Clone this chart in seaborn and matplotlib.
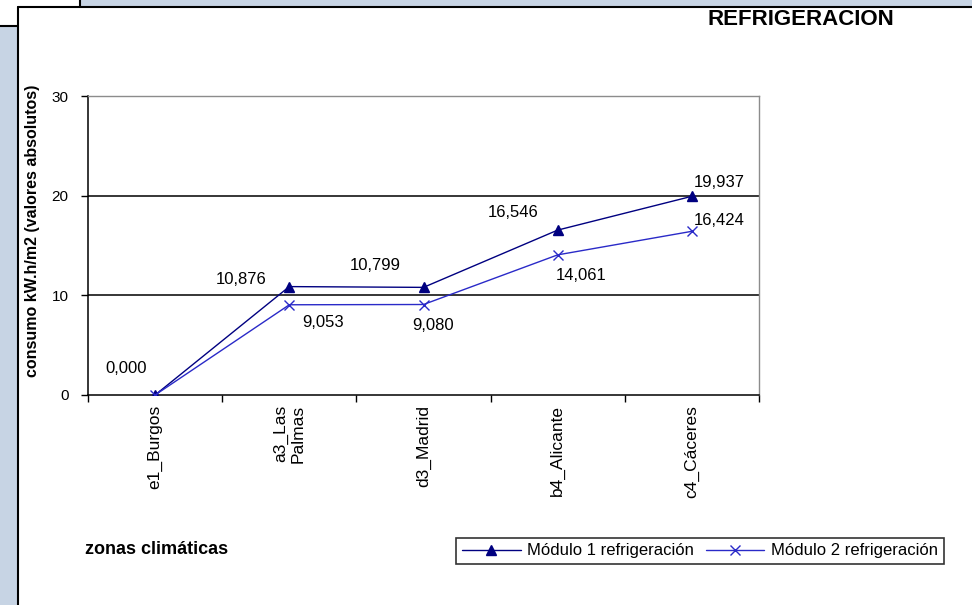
import matplotlib
matplotlib.use("Agg")
import matplotlib.pyplot as plt
from matplotlib.patches import Rectangle
from matplotlib.lines import Line2D
import seaborn as sns
import pandas as pd

# Climate zones and cooling consumption per module (kWh/m2)
zonas = ["e1_Burgos", "a3_Las\nPalmas", "d3_Madrid", "b4_Alicante", "c4_Cáceres"]
modulo1 = [0.000, 10.876, 10.799, 16.546, 19.937]
modulo2 = [0.000, 9.053, 9.080, 14.061, 16.424]
series = ["Módulo 1 refrigeración", "Módulo 2 refrigeración"]
yticks = [0, 10, 20, 30]

df = pd.DataFrame({
    "zona": list(range(len(zonas))) * 2,
    "consumo": modulo1 + modulo2,
    "serie": [series[0]] * len(zonas) + [series[1]] * len(zonas),
})

sns.set_theme(style="white")
plt.rcParams["font.family"] = ["Liberation Sans", "DejaVu Sans"]
plt.rcParams["text.color"] = "black"
plt.rcParams["xtick.color"] = "black"
plt.rcParams["ytick.color"] = "black"

W, H = 972, 605
fig = plt.figure(figsize=(W / 100, H / 100), dpi=100)
fig.patch.set_facecolor("white")

def fx(px):
    return px / W

def fy(py):
    return 1 - py / H

# window frame around the chart
frame_col = "#c7d4e4"
fig.patches.append(Rectangle((0, 0), fx(18), fy(27), transform=fig.transFigure,
                             facecolor=frame_col, edgecolor="none", zorder=0))
fig.patches.append(Rectangle((fx(81), fy(6.5)), 1 - fx(81), 6.5 / H, transform=fig.transFigure,
                             facecolor=frame_col, edgecolor="none", zorder=0))
for xs, ys in [((fx(18), fx(18)), (0, fy(7))),
               ((fx(18), 1), (fy(7), fy(7))),
               ((0, fx(18)), (fy(26), fy(26))),
               ((fx(80), fx(80)), (1, fy(7)))]:
    fig.lines.append(Line2D(xs, ys, transform=fig.transFigure, color="black", lw=1.5))

ax = fig.add_axes([fx(88), fy(395), fx(759) - fx(88), (395 - 96) / H])
ax.set_facecolor("white")

palette = {series[0]: "#000080", series[1]: "#2a2ac8"}
markers = {series[0]: "^", series[1]: "x"}
for s in series:
    sns.lineplot(data=df[df["serie"] == s], x="zona", y="consumo",
                 color=palette[s], marker=markers[s], linewidth=1.0,
                 markersize=7, markeredgewidth=1.0, markeredgecolor=palette[s],
                 ax=ax, legend=False, zorder=3)

ax.set_xlim(-0.5, len(zonas) - 0.5)
ax.set_ylim(0, 30)
ax.set_yticks(yticks)
ax.set_yticklabels([str(t) for t in yticks], fontsize=11)
ax.tick_params(axis="y", direction="out", length=5, width=1, color="black", pad=9, left=True)

# category boundaries as ticks, labels at category centers
ax.set_xticks([i - 0.5 for i in range(len(zonas) + 1)])
ax.set_xticklabels([])
ax.set_xticks(list(range(len(zonas))), minor=True)
ax.set_xticklabels(zonas, minor=True, rotation=90, fontsize=12.5,
                   va="top", ha="center", multialignment="right")
ax.tick_params(axis="x", which="major", direction="out", length=5, width=1, color="black", bottom=True)
ax.tick_params(axis="x", which="minor", length=0, pad=7)
ax.set_xlabel("")
ax.set_ylabel("")

for y in [10, 20]:
    ax.axhline(y, color="black", lw=1.1, zorder=1)
for side in ["left", "bottom"]:
    ax.spines[side].set_color("black")
    ax.spines[side].set_linewidth(1.1)
for side in ["top", "right"]:
    ax.spines[side].set_color("#8c8c8c")
    ax.spines[side].set_linewidth(1.0)

def fmt(v):
    return f"{v:.3f}".replace(".", ",")

off1 = [(-21, 19), (-35, 5), (-35, 16), (-32, 13), (20, 10)]
off2 = [None, (24, -13), (7, -15), (17, -15), (20, 8)]
for i, v in enumerate(modulo1):
    ax.annotate(fmt(v), (i, v), xytext=off1[i], textcoords="offset points",
                ha="center", va="center", fontsize=12, color="black")
for i, v in enumerate(modulo2):
    if off2[i] is None:
        continue
    ax.annotate(fmt(v), (i, v), xytext=off2[i], textcoords="offset points",
                ha="center", va="center", fontsize=12, color="black")

fig.text(fx(801), fy(19.5), "REFRIGERACION", fontsize=16, fontweight="bold",
         ha="center", va="center")
fig.text(fx(33), fy(231), "consumo kW.h/m2 (valores absolutos)", fontsize=11.5,
         fontweight="bold", rotation=90, ha="center", va="center")
fig.text(fx(85), fy(550), "zonas climáticas", fontsize=13, fontweight="bold",
         ha="left", va="center")

handles = [Line2D([], [], color=palette[s], marker=markers[s], lw=1.0, markersize=7,
                  markeredgewidth=1.0) for s in series]
leg = fig.legend(handles, series, loc="center", bbox_to_anchor=(fx(700), fy(551)),
                 ncol=2, fontsize=12, frameon=True, fancybox=False,
                 handlelength=3.5, handletextpad=0.4, columnspacing=0.7,
                 borderpad=0.35, edgecolor="black")
leg.get_frame().set_linewidth(1.2)

fig.savefig("out.png", dpi=100, facecolor=fig.get_facecolor())
